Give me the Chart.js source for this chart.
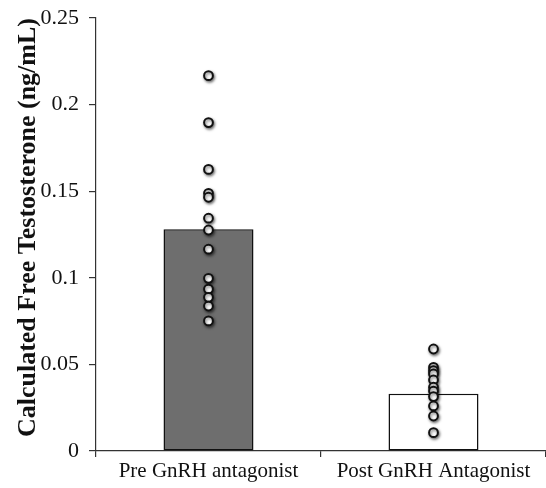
<!DOCTYPE html>
<html>
<head>
<meta charset="utf-8">
<script src="https://cdn.jsdelivr.net/npm/chart.js@4"></script>
<style>
html,body{margin:0;padding:0;background:#fff;}
#wrap{width:546px;height:488px;position:relative;}
</style>
</head>
<body>
<div id="wrap"><canvas id="c" width="546" height="488"></canvas></div>
<script>
const categories = ['Pre GnRH antagonist', 'Post GnRH Antagonist'];
const meanValues = [0.128, 0.033];
const preIndividual = [0.2167, 0.1896, 0.1626, 0.1488, 0.1465, 0.1344, 0.1276, 0.1165, 0.0997, 0.0935, 0.0887, 0.0837, 0.0751];
const postIndividual = [0.0589, 0.0483, 0.0464, 0.0445, 0.0410, 0.0368, 0.0346, 0.0314, 0.0260, 0.0202, 0.0106];
const yTicks = [0, 0.05, 0.1, 0.15, 0.2, 0.25];
const yTitle = 'Calculated Free Testosterone (ng/mL)';

const pointData = [];
preIndividual.forEach(v => pointData.push({x: categories[0], y: v}));
postIndividual.forEach(v => pointData.push({x: categories[1], y: v}));

const shadowPlugin = {
  id: 'shadow',
  beforeDatasetDraw(chart, args) {
    if (args.index === 1) {
      chart.ctx.save();
      chart.ctx.shadowColor = 'rgba(0,0,0,0.55)';
      chart.ctx.shadowBlur = 3;
      chart.ctx.shadowOffsetX = 1;
      chart.ctx.shadowOffsetY = 1.5;
    }
  },
  afterDatasetDraw(chart, args) {
    if (args.index === 1) chart.ctx.restore();
  }
};

const serif = '"Liberation Serif", "Times New Roman", serif';

new Chart(document.getElementById('c'), {
  type: 'bar',
  data: {
    labels: categories,
    datasets: [
      {
        type: 'bar',
        data: meanValues,
        backgroundColor: ['#6e6e6e', '#ffffff'],
        borderColor: '#111',
        borderWidth: 1.5,
        borderSkipped: false,
        barPercentage: 0.40,
        categoryPercentage: 1.0,
        order: 2
      },
      {
        type: 'line',
        data: pointData,
        showLine: false,
        pointRadius: 4.4,
        pointBorderWidth: 2,
        pointBackgroundColor: '#ffffff',
        pointBorderColor: '#111',
        order: 1
      }
    ]
  },
  plugins: [shadowPlugin],
  options: {
    responsive: false,
    animation: false,
    layout: {autoPadding: false, padding: {top: 18, right: 0, left: 0, bottom: 0}},
    plugins: {legend: {display: false}, tooltip: {enabled: false}},
    scales: {
      x: {
        offset: true,
        grid: {display: true, offset: true, drawOnChartArea: false, tickLength: 6, color: '#333', lineWidth: 1.2},
        border: {display: true, color: '#333', width: 1.2},
        ticks: {font: {family: serif, size: 21}, color: '#111', padding: 2, maxRotation: 0},
        afterFit(s) { s.height = 37; }
      },
      y: {
        min: 0,
        max: 0.25,
        afterBuildTicks(s) { s.ticks = yTicks.map(v => ({value: v})); },
        grid: {display: true, drawOnChartArea: false, tickLength: 7, color: '#333', lineWidth: 1.2},
        border: {display: true, color: '#333', width: 1.2},
        ticks: {
          font: {family: serif, size: 22, lineHeight: 0.6},
          color: '#111',
          padding: 10,
          callback: v => String(Number(v.toFixed(2)))
        },
        title: {
          display: true,
          text: yTitle,
          align: 'end',
          font: {family: serif, size: 26, weight: 'bold'},
          color: '#111',
          padding: {top: 13, bottom: 2}
        },
        afterFit(s) { s.width = 96; }
      }
    }
  }
});
</script>
</body>
</html>
